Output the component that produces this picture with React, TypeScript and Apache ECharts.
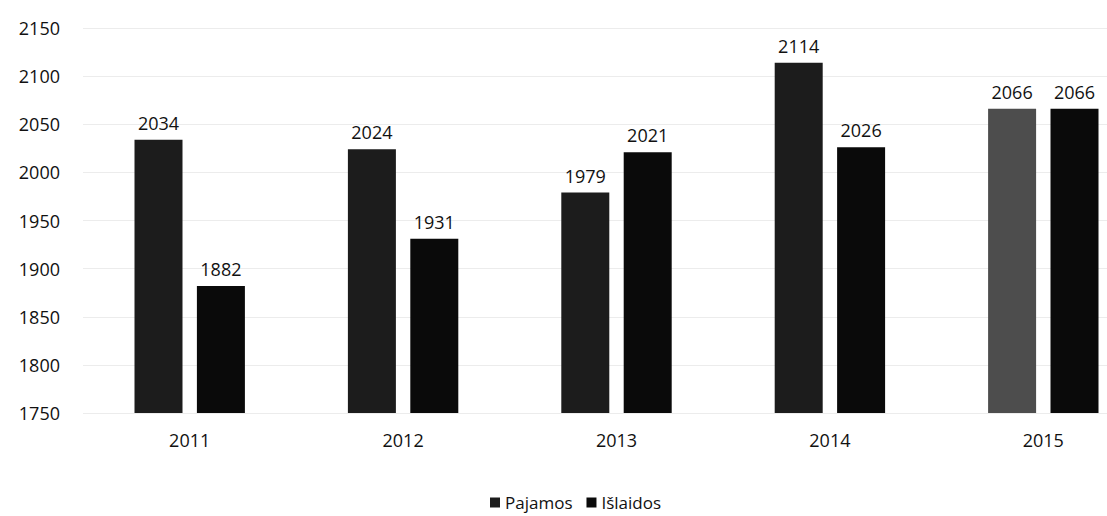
import React, { useEffect, useRef } from "react";
import * as echarts from "echarts";

const years = ["2011", "2012", "2013", "2014", "2015"];
const pajamos = [2034, 2024, 1979, 2114, 2066];
const islaidos = [1882, 1931, 2021, 2026, 2066];
const seriesNames = ["Pajamos", "Išlaidos"];
const yMin = 1750;
const yMax = 2150;
const yStep = 50;

export default function App() {
  const ref = useRef<HTMLDivElement>(null);
  useEffect(() => {
    if (!ref.current) return;
    const chart = echarts.init(ref.current, undefined, { renderer: "svg" });
    const font = "'Open Sans', 'Noto Sans', sans-serif";
    const label = {
      show: true,
      position: "top",
      distance: 8,
      color: "#111111",
      fontSize: 18,
      fontFamily: font,
    };
    chart.setOption({
      animation: false,
      backgroundColor: "#ffffff",
      textStyle: { fontFamily: font },
      legend: {
        data: seriesNames,
        bottom: 0,
        left: 485,
        icon: "rect",
        itemWidth: 10,
        itemHeight: 10,
        itemGap: 14,
        textStyle: { fontSize: 17, color: "#111111", fontFamily: font },
      },
      grid: { left: 83, right: -43, top: 28, bottom: 103, outerBoundsMode: "none" },
      xAxis: {
        type: "category",
        data: years,
        axisLine: { show: false },
        axisTick: { show: false },
        axisLabel: { fontSize: 18, color: "#111111", margin: 18, fontFamily: font },
      },
      yAxis: {
        type: "value",
        min: yMin,
        max: yMax,
        interval: yStep,
        axisLine: { show: false },
        axisTick: { show: false },
        axisLabel: {
          fontSize: 18,
          color: "#111111",
          margin: 23,
          fontFamily: font,
          formatter: (v: number) => String(v),
        },
        splitLine: { lineStyle: { color: "#ececec", width: 1 } },
      },
      series: [
        {
          name: seriesNames[0],
          type: "bar",
          barWidth: 48,
          barGap: "30%",
          itemStyle: { color: "#1c1c1c" },
          label,
          data: pajamos.map((v, i) =>
            i === years.length - 1 ? { value: v, itemStyle: { color: "#4d4d4d" } } : v
          ),
        },
        {
          name: seriesNames[1],
          type: "bar",
          barWidth: 48,
          barGap: "30%",
          itemStyle: { color: "#0a0a0a" },
          label,
          data: islaidos,
        },
      ],
    });
    return () => chart.dispose();
  }, []);
  return <div ref={ref} style={{ width: 1107, height: 516, position: "fixed", left: 0, top: 0 }} />;
}
